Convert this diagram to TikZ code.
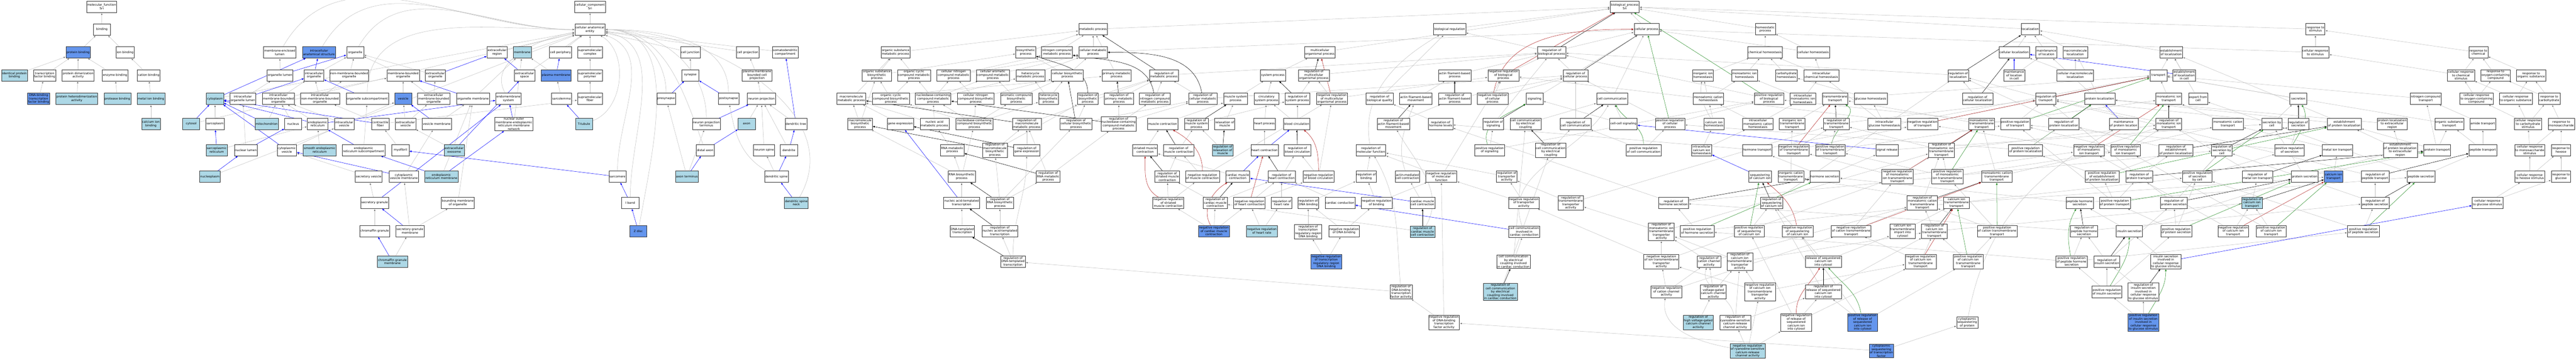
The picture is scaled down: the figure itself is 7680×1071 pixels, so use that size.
\documentclass[tikz,border=0pt]{standalone}
\usepackage{fontspec}
\newfontfamily\goterm{DejaVu Sans}
\usetikzlibrary{arrows.meta}
\definecolor{edgegray}{RGB}{192,192,192}
\definecolor{hitblue}{RGB}{173,216,230}
\definecolor{seedblue}{RGB}{100,149,237}
\definecolor{negred}{RGB}{178,34,34}
\definecolor{posgreen}{RGB}{34,139,34}
\pgfdeclarelayer{bg}
\pgfsetlayers{bg,main}

\begin{document}
\begin{tikzpicture}[x=1pt,y=-1pt,
term/.style={draw=black!80,line width=0.8pt,fill=white,align=center,inner xsep=2pt,inner ysep=2pt,minimum width=51pt,minimum height=34pt,font=\goterm\fontsize{9}{10}\selectfont},
hit/.style={term,fill=hitblue},
seed/.style={term,fill=seedblue},
isa/.style={draw=edgegray,line width=0.8pt,-{Triangle[length=6pt,width=5pt]},shorten >=1pt},
partof/.style={draw=blue},
regs/.style={draw=black},
negreg/.style={draw=negred},
posreg/.style={draw=posgreen}]
\useasboundingbox (0,0) rectangle (7680,1071);

% molecular function
\node[term] (mf) at (303,20) {molecular\_function\\Sri};
\node[term] (bind) at (304,88) {binding};
\node[seed] (protbind) at (233,156) {protein binding};
\node[term] (ionbind) at (373,156) {ion binding};
\node[hit] (identprot) at (43,224) {identical protein\\binding};
\node[term] (tfbind) at (133,224) {transcription\\factor binding};
\node[term] (dimer) at (233,224) {protein dimerization\\activity};
\node[term] (enzbind) at (343,224) {enzyme binding};
\node[term] (catbind) at (443,224) {cation binding};
\node[seed] (dnatfbind) at (115,294) {DNA-binding\\transcription\\factor binding};
\node[hit] (heterodimer) at (229,294) {protein heterodimerization\\activity};
\node[hit] (proteasebind) at (350,294) {protease binding};
\node[hit] (metalbind) at (450,294) {metal ion binding};
\node[hit] (cabind) at (450,369) {calcium ion\\binding};

% cellular component
\node[term] (cc) at (1759,20) {cellular\_component\\Sri};
\node[term] (cae) at (1759,88) {cellular anatomical\\entity};
\node[term] (melumen) at (834,156) {membrane-enclosed\\lumen};
\node[seed] (ias) at (951,156) {intracellular\\anatomical structure};
\node[term] (organelle) at (1059,156) {organelle};
\node[term] (exreg) at (1482,156) {extracellular\\region};
\node[hit] (membrane) at (1557,156) {membrane};
\node[term] (cellper) at (1671,156) {cell periphery};
\node[term] (smcomplex) at (1759,156) {supramolecular\\complex};
\node[term] (celljunc) at (2058,156) {cell junction};
\node[term] (cellproj) at (2229,156) {cell projection};
\node[term] (somato) at (2341,156) {somatodendritic\\compartment};
\node[term] (orglumen) at (835,224) {organelle lumen};
\node[term] (intorg) at (936,224) {intracellular\\organelle};
\node[term] (nmbo) at (1041,224) {non-membrane-bounded\\organelle};
\node[term] (mbo) at (1202,224) {membrane-bounded\\organelle};
\node[term] (exorg) at (1298,224) {extracellular\\organelle};
\node[term] (exspace) at (1564,224) {extracellular\\space};
\node[seed] (pm) at (1658,224) {plasma membrane};
\node[term] (smpolymer) at (1759,224) {supramolecular\\polymer};
\node[term] (synapse) at (2058,224) {synapse};
\node[term] (pmbcp) at (2257,224) {plasma membrane\\bounded cell\\projection};
\node[hit] (cytoplasm) at (641,294) {cytoplasm};
\node[term] (intorglumen) at (724,294) {intracellular\\organelle lumen};
\node[term] (imbo) at (830,294) {intracellular\\membrane-bounded\\organelle};
\node[term] (inmbo) at (954,294) {intracellular\\non-membrane-bounded\\organelle};
\node[term] (orgsub) at (1095,294) {organelle subcompartment};
\node[seed] (vesicle) at (1202,294) {vesicle};
\node[term] (exmbo) at (1293,294) {extracellular\\membrane-bounded\\organelle};
\node[term] (orgmem) at (1410,294) {organelle membrane};
\node[term] (endomem) at (1516,294) {endomembrane\\system};
\node[term] (sarcolemma) at (1674,294) {sarcolemma};
\node[term] (smfiber) at (1759,294) {supramolecular\\fiber};
\node[term] (presyn) at (1986,294) {presynapse};
\node[term] (postsyn) at (2172,294) {postsynapse};
\node[term] (neuproj) at (2270,294) {neuron projection};
\node[hit] (cytosol) at (570,369) {cytosol};
\node[term] (sarcoplasm) at (641,369) {sarcoplasm};
\node[hit] (mito) at (795,369) {mitochondrion};
\node[term] (nucleus) at (874,369) {nucleus};
\node[term] (er) at (947,369) {endoplasmic\\reticulum};
\node[term] (intves) at (1026,369) {intracellular\\vesicle};
\node[term] (contrfiber) at (1134,369) {contractile\\fiber};
\node[term] (exves) at (1209,369) {extracellular\\vesicle};
\node[term] (vesmem) at (1302,369) {vesicle membrane};
\node[term] (nomer) at (1532,369) {nuclear outer\\membrane-endoplasmic\\reticulum membrane\\network};
\node[hit] (ttubule) at (1741,369) {T-tubule};
\node[term] (npterm) at (2106,369) {neuron projection\\terminus};
\node[hit] (axon) at (2226,369) {axon};
\node[term] (dendtree) at (2373,369) {dendritic tree};
\node[hit] (sarcoret) at (646,447) {sarcoplasmic\\reticulum};
\node[term] (nuclumen) at (733,447) {nuclear lumen};
\node[term] (cytves) at (855,447) {cytoplasmic\\vesicle};
\node[hit] (ser) at (953,447) {smooth endoplasmic\\reticulum};
\node[term] (ersub) at (1084,447) {endoplasmic\\reticulum subcompartment};
\node[term] (myofibril) at (1194,447) {myofibril};
\node[hit] (exosome) at (1354,447) {extracellular\\exosome};
\node[term] (distaxon) at (2102,447) {distal axon};
\node[term] (neuspine) at (2278,447) {neuron spine};
\node[term] (dendrite) at (2352,447) {dendrite};
\node[hit] (nucleoplasm) at (626,526) {nucleoplasm};
\node[term] (secves) at (1099,526) {secretory vesicle};
\node[term] (cvmem) at (1204,526) {cytoplasmic\\vesicle membrane};
\node[hit] (ermem) at (1316,526) {endoplasmic\\reticulum membrane};
\node[term] (sarcomere) at (1841,526) {sarcomere};
\node[hit] (axonterm) at (2048,526) {axon terminus};
\node[term] (dendspine) at (2315,526) {dendritic spine};
\node[term] (secgran) at (1117,604) {secretory granule};
\node[term] (bmo) at (1365,604) {bounding membrane\\of organelle};
\node[term] (iband) at (1879,604) {I band};
\node[hit] (spineneck) at (2374,604) {dendritic spine\\neck};
\node[term] (chromgran) at (1117,688) {chromaffin granule};
\node[term] (sgmem) at (1222,688) {secretory granule\\membrane};
\node[seed] (zdisc) at (1903,688) {Z disc};
\node[hit] (cgmem) at (1170,779) {chromaffin granule\\membrane};

% biological process
\node[term] (bp) at (4844,20) {biological\_process\\Sri};
\node[term] (metab) at (3259,87) {metabolic process};
\node[term] (bioreg) at (4322,87) {biological regulation};
\node[term] (cellproc) at (4909,87) {cellular process};
\node[term] (homeo) at (5263,87) {homeostatic\\process};
\node[term] (loc) at (6053,87) {localization};
\node[term] (respstim) at (6903,87) {response to\\stimulus};
\node[term] (orgsubmet) at (2670,156) {organic substance\\metabolic process};
\node[term] (biosyn) at (3058,156) {biosynthetic\\process};
\node[term] (ncmp) at (3151,156) {nitrogen compound\\metabolic process};
\node[term] (cellmet) at (3259,156) {cellular metabolic\\process};
\node[term] (multiorg) at (3935,156) {multicellular\\organismal process};
\node[term] (regbio) at (4626,156) {regulation of\\biological process};
\node[term] (chemhomeo) at (5262,156) {chemical homeostasis};
\node[term] (cellhomeo) at (5406,156) {cellular homeostasis};
\node[term] (cellloc) at (6005,156) {cellular localization};
\node[term] (maintloc) at (6101,156) {maintenance\\of location};
\node[term] (macroloc) at (6187,156) {macromolecule\\localization};
\node[term] (estloc) at (6473,156) {establishment\\of localization};
\node[term] (cellresp) at (6903,156) {cellular response\\to stimulus};
\node[term] (respchem) at (7389,156) {response to\\chemical};
\node[term] (orgsubbio) at (2614,224) {organic substance\\biosynthetic\\process};
\node[term] (occmp) at (2725,224) {organic cyclic\\compound metabolic\\process};
\node[term] (cncmp) at (2843,224) {cellular nitrogen\\compound metabolic\\process};
\node[term] (cacmp) at (2960,224) {cellular aromatic\\compound metabolic\\process};
\node[term] (hetmet) at (3072,224) {heterocycle\\metabolic process};
\node[term] (cellbio) at (3182,224) {cellular biosynthetic\\process};
\node[term] (primmet) at (3329,224) {primary metabolic\\process};
\node[term] (regmet) at (3470,224) {regulation of\\metabolic process};
\node[term] (sysproc) at (3795,224) {system process};
\node[term] (regmulti) at (3917,224) {regulation of\\multicellular\\organismal process};
\node[term] (afbp) at (4337,224) {actin filament-based\\process};
\node[term] (negbio) at (4482,224) {negative regulation\\of biological\\process};
\node[term] (regcell) at (4697,224) {regulation of\\cellular process};
\node[term] (inorghomeo) at (5077,224) {inorganic ion\\homeostasis};
\node[term] (ionhomeo) at (5201,224) {monoatomic ion\\homeostasis};
\node[term] (carbhomeo) at (5326,224) {carbohydrate\\homeostasis};
\node[term] (icchemhomeo) at (5430,224) {intracellular\\chemical homeostasis};
\node[term] (regloc) at (5838,224) {regulation of\\localization};
\node[term] (maintlocell) at (6005,224) {maintenance\\of location\\in cell};
\node[term] (cmacroloc) at (6187,224) {cellular macromolecule\\localization};
\node[term] (transport) at (6435,224) {transport};
\node[term] (estloccell) at (6512,224) {establishment\\of localization\\in cell};
\node[term] (crchem) at (7337,224) {cellular response\\to chemical\\stimulus};
\node[term] (respoxy) at (7440,224) {response to\\oxygen-containing\\compound};
\node[term] (resporg) at (7546,224) {response to\\organic substance};
\node[term] (macromet) at (2538,294) {macromolecule\\metabolic process};
\node[term] (occbp) at (2656,294) {organic cyclic\\compound biosynthetic\\process};
\node[term] (nccmp) at (2782,294) {nucleobase-containing\\compound metabolic\\process};
\node[term] (cncbp) at (2909,294) {cellular nitrogen\\compound biosynthetic\\process};
\node[term] (acbp) at (3030,294) {aromatic compound\\biosynthetic\\process};
\node[term] (hetbio) at (3126,294) {heterocycle\\biosynthetic\\process};
\node[term] (regbiosyn) at (3243,294) {regulation of\\biosynthetic\\process};
\node[term] (regprim) at (3336,294) {regulation of\\primary metabolic\\process};
\node[term] (regncmp) at (3443,294) {regulation of\\nitrogen compound\\metabolic process};
\node[term] (regcellmet) at (3586,294) {regulation of\\cellular metabolic\\process};
\node[term] (musclesys) at (3684,294) {muscle system\\process};
\node[term] (circsys) at (3776,294) {circulatory\\system process};
\node[term] (regsys) at (3868,294) {regulation of\\system process};
\node[term] (negmulti) at (3971,294) {negative regulation\\of multicellular\\organismal process};
\node[term] (regqual) at (4113,294) {regulation of\\biological quality};
\node[term] (afbm) at (4221,294) {actin filament-based\\movement};
\node[term] (regafbp) at (4337,294) {regulation of\\actin filament-based\\process};
\node[term] (negcell) at (4450,294) {negative regulation\\of cellular\\process};
\node[term] (signaling) at (4575,294) {signaling};
\node[term] (cellcomm) at (4806,294) {cell communication};
\node[term] (cationhomeo) at (5093,294) {monoatomic cation\\homeostasis};
\node[term] (posbio) at (5274,294) {positive regulation\\of biological\\process};
\node[term] (icionhomeo) at (5375,294) {intracellular\\monoatomic ion\\homeostasis};
\node[term] (tmtransport) at (5471,294) {transmembrane\\transport};
\node[term] (glchomeo) at (5577,294) {glucose homeostasis};
\node[term] (regcellloc) at (5896,294) {regulation of\\cellular localization};
\node[term] (regtransport) at (6099,294) {regulation of\\transport};
\node[term] (protloc) at (6260,294) {protein localization};
\node[term] (iontransport) at (6466,294) {monoatomic ion\\transport};
\node[term] (export) at (6553,294) {export from\\cell};
\node[term] (secretion) at (6852,294) {secretion};
\node[term] (nctransport) at (7232,294) {nitrogen compound\\transport};
\node[term] (croxy) at (7383,294) {cellular response\\to oxygen-containing\\compound};
\node[term] (crorg) at (7500,294) {cellular response\\to organic substance};
\node[term] (respcarb) at (7600,294) {response to\\carbohydrate};
\node[term] (macrobio) at (2564,369) {macromolecule\\biosynthetic\\process};
\node[term] (geneexp) at (2684,369) {gene expression};
\node[term] (nameta) at (2786,369) {nucleic acid\\metabolic process};
\node[term] (nccbp) at (2905,369) {nucleobase-containing\\compound biosynthetic\\process};
\node[term] (regmacromet) at (3061,369) {regulation of\\macromolecule\\metabolic process};
\node[term] (regcellbio) at (3208,369) {regulation of\\cellular biosynthetic\\process};
\node[term] (regnccmp) at (3335,369) {regulation of\\nucleobase-containing\\compound metabolic\\process};
\node[term] (musclecon) at (3466,369) {muscle contraction};
\node[term] (regmusclesys) at (3567,369) {regulation of\\muscle system\\process};
\node[term] (relax) at (3651,369) {relaxation of\\muscle};
\node[term] (heartproc) at (3770,369) {heart process};
\node[term] (bloodcirc) at (3866,369) {blood circulation};
\node[term] (regafbm) at (4154,369) {regulation of\\actin filament-based\\movement};
\node[term] (reghormlev) at (4295,369) {regulation of\\hormone levels};
\node[term] (regsig) at (4452,369) {regulation of\\signaling};
\node[term] (ccelec) at (4548,369) {cell communication\\by electrical\\coupling};
\node[term] (regcellcomm) at (4697,369) {regulation of\\cell communication};
\node[term] (ccsignal) at (4840,369) {cell-cell signaling};
\node[term] (poscell) at (4979,369) {positive regulation\\of cellular\\process};
\node[term] (cahomeo) at (5110,369) {calcium ion\\homeostasis};
\node[term] (iccationhomeo) at (5241,369) {intracellular\\monoatomic cation\\homeostasis};
\node[term] (inorgiontm) at (5343,369) {inorganic ion\\transmembrane\\transport};
\node[term] (regtm) at (5475,369) {regulation of\\transmembrane\\transport};
\node[term] (icglchomeo) at (5618,369) {intracellular\\glucose homeostasis};
\node[term] (negtransport) at (5732,369) {negative regulation\\of transport};
\node[term] (iontm) at (5908,369) {monoatomic ion\\transmembrane\\transport};
\node[term] (postransport) at (6008,369) {positive regulation\\of transport};
\node[term] (regprotloc) at (6153,369) {regulation of\\protein localization};
\node[term] (maintprotloc) at (6331,369) {maintenance\\of protein location};
\node[term] (regiontransport) at (6466,369) {regulation of\\monoatomic ion\\transport};
\node[term] (cationtransport) at (6642,369) {monoatomic cation\\transport};
\node[term] (secbycell) at (6773,369) {secretion by\\cell};
\node[term] (regsecretion) at (6852,369) {regulation of\\secretion};
\node[term] (estprotloc) at (6989,369) {establishment\\of protein localization};
\node[term] (protlocex) at (7132,369) {protein localization\\to extracellular\\region};
\node[term] (orgsubtransport) at (7302,369) {organic substance\\transport};
\node[term] (amidetransport) at (7402,369) {amide transport};
\node[term] (crcarb) at (7537,369) {cellular response\\to carbohydrate\\stimulus};
\node[term] (respmono) at (7636,369) {response to\\monosaccharide};
\node[term] (rnamet) at (2839,447) {RNA metabolic\\process};
\node[term] (regmacrobio) at (2966,447) {regulation of\\macromolecule\\biosynthetic\\process};
\node[term] (reggeneexp) at (3061,447) {regulation of\\gene expression};
\node[term] (striated) at (3414,447) {striated muscle\\contraction};
\node[term] (regmusclecon) at (3514,447) {regulation of\\muscle contraction};
\node[hit] (regrelax) at (3645,447) {regulation of\\relaxation of\\muscle};
\node[term] (heartcon) at (3770,447) {heart contraction};
\node[term] (regblood) at (3868,447) {regulation of\\blood circulation};
\node[term] (regmf) at (4087,447) {regulation of\\molecular function};
\node[term] (possig) at (4441,447) {positive regulation\\of signaling};
\node[term] (regccelec) at (4623,447) {regulation of\\cell communication\\by electrical\\coupling};
\node[term] (poscellcomm) at (4900,447) {positive regulation\\of cell communication};
\node[term] (iccahomeo) at (5073,447) {intracellular\\calcium ion\\homeostasis};
\node[term] (hormtransport) at (5239,447) {hormone transport};
\node[term] (negtm) at (5348,447) {negative regulation\\of transmembrane\\transport};
\node[term] (postm) at (5457,447) {positive regulation\\of transmembrane\\transport};
\node[term] (sigrelease) at (5626,447) {signal release};
\node[term] (regiontm) at (5788,447) {regulation of\\monoatomic ion\\transmembrane\\transport};
\node[term] (posprotloc) at (6039,447) {positive regulation\\of protein localization};
\node[term] (negiontransport) at (6228,447) {negative regulation\\of monoatomic\\ion transport};
\node[term] (posiontransport) at (6337,447) {positive regulation\\of monoatomic\\ion transport};
\node[term] (regestprotloc) at (6487,447) {regulation of\\establishment\\of protein localization};
\node[term] (regsecbycell) at (6624,447) {regulation of\\secretion by\\cell};
\node[term] (possecretion) at (6826,447) {positive regulation\\of secretion};
\node[term] (metaltransport) at (6969,447) {metal ion transport};
\node[term] (estprotlocex) at (7156,447) {establishment\\of protein localization\\to extracellular\\region};
\node[term] (prottransport) at (7266,447) {protein transport};
\node[term] (peptransport) at (7402,447) {peptide transport};
\node[term] (crmono) at (7542,447) {cellular response\\to monosaccharide\\stimulus};
\node[term] (resphexose) at (7635,447) {response to\\hexose};
\node[term] (rnabio) at (2867,526) {RNA biosynthetic\\process};
\node[term] (regrnamet) at (3125,526) {regulation of\\RNA metabolic\\process};
\node[term] (regstriated) at (3480,526) {regulation of\\striated muscle\\contraction};
\node[term] (negmusclecon) at (3585,526) {negative regulation\\of muscle contraction};
\node[term] (cardiaccon) at (3690,526) {cardiac muscle\\contraction};
\node[term] (regheartcon) at (3821,526) {regulation of\\heart contraction};
\node[term] (negblood) at (3931,526) {negative regulation\\of blood circulation};
\node[term] (regbinding) at (4073,526) {regulation of\\binding};
\node[term] (actincon) at (4196,526) {actin-mediated\\cell contraction};
\node[term] (negmf) at (4297,526) {negative regulation\\of molecular\\function};
\node[term] (regtransporter) at (4492,526) {regulation of\\transporter\\activity};
\node[term] (seqca) at (5247,526) {sequestering\\of calcium ion};
\node[term] (inorgcationtm) at (5339,526) {inorganic cation\\transmembrane\\transport};
\node[term] (hormsec) at (5440,526) {hormone secretion};
\node[term] (negiontm) at (5657,526) {negative regulation\\of monoatomic\\ion transmembrane\\transport};
\node[term] (posiontm) at (5806,526) {positive regulation\\of monoatomic\\ion transmembrane\\transport};
\node[term] (cationtm) at (5953,526) {monoatomic cation\\transmembrane\\transport};
\node[term] (posestprotloc) at (6267,526) {positive regulation\\of establishment\\of protein localization};
\node[term] (regprottransport) at (6378,526) {regulation of\\protein transport};
\node[term] (possecbycell) at (6551,526) {positive regulation\\of secretion\\by cell};
\node[term] (regmetaltransport) at (6730,526) {regulation of\\metal ion transport};
\node[term] (protsec) at (6871,526) {protein secretion};
\node[seed] (catransport) at (6957,526) {calcium ion\\transport};
\node[term] (regpeptransport) at (7081,526) {regulation of\\peptide transport};
\node[term] (peptidesec) at (7218,526) {peptide secretion};
\node[term] (crhexose) at (7542,526) {cellular response\\to hexose stimulus};
\node[term] (respglucose) at (7635,526) {response to\\glucose};
\node[term] (ntt) at (2867,604) {nucleic acid-templated\\transcription};
\node[term] (regrnabio) at (2981,604) {regulation of\\RNA biosynthetic\\process};
\node[term] (negstriated) at (3483,604) {negative regulation\\of striated\\muscle contraction};
\node[term] (regcardiaccon) at (3623,604) {regulation of\\cardiac muscle\\contraction};
\node[term] (negheartcon) at (3725,604) {negative regulation\\of heart contraction};
\node[term] (regheartrate) at (3821,604) {regulation of\\heart rate};
\node[term] (regdnabind) at (3900,604) {regulation of\\DNA binding};
\node[term] (cardcond) at (3995,604) {cardiac conduction};
\node[term] (negbinding) at (4104,604) {negative regulation\\of binding};
\node[term] (cmcellcon) at (4241,604) {cardiac muscle\\cell contraction};
\node[term] (negtransporter) at (4543,604) {negative regulation\\of transporter\\activity};
\node[term] (regtmtransporter) at (4683,604) {regulation of\\transmembrane\\transporter\\activity};
\node[term] (reghormsec) at (4989,604) {regulation of\\hormone secretion};
\node[term] (regseqca) at (5282,604) {regulation of\\sequestering\\of calcium ion};
\node[term] (regcationtm) at (5731,604) {regulation of\\monoatomic cation\\transmembrane\\transport};
\node[term] (catm) at (5833,604) {calcium ion\\transmembrane\\transport};
\node[term] (pephormsec) at (6200,604) {peptide hormone\\secretion};
\node[term] (posprottransport) at (6305,604) {positive regulation\\of protein transport};
\node[term] (regprotsec) at (6481,604) {regulation of\\protein secretion};
\node[hit] (regcatransport) at (6714,604) {regulation of\\calcium ion\\transport};
\node[term] (regpepsec) at (7081,604) {regulation of\\peptide secretion};
\node[term] (crglucose) at (7416,604) {cellular response\\to glucose stimulus};
\node[term] (dnatt) at (2869,688) {DNA-templated\\transcription};
\node[term] (regntt) at (2981,688) {regulation of\\nucleic acid-templated\\transcription};
\node[seed] (negcardiaccon) at (3619,688) {negative regulation\\of cardiac muscle\\contraction};
\node[hit] (negheartrate) at (3762,688) {negative regulation\\of heart rate};
\node[term] (regtrrbind) at (3900,690) {regulation of\\transcription\\regulatory region\\DNA binding};
\node[term] (negdnabind) at (4007,688) {negative regulation\\of DNA binding};
\node[hit] (regcmcellcon) at (4241,690) {regulation of\\cardiac muscle\\cell contraction};
\node[term] (cccardcond) at (4544,690) {cell communication\\involved in\\cardiac conduction};
\node[term] (regiontmtransporter) at (4953,690) {regulation of\\monoatomic ion\\transmembrane\\transporter\\activity};
\node[term] (poshormsec) at (5060,688) {positive regulation\\of hormone secretion};
\node[term] (posseqca) at (5215,688) {positive regulation\\of sequestering\\of calcium ion};
\node[term] (negseqca) at (5359,688) {negative regulation\\of sequestering\\of calcium ion};
\node[term] (negcationtm) at (5519,688) {negative regulation\\of cation transmembrane\\transport};
\node[term] (caimport) at (5672,688) {calcium ion\\transmembrane\\import into\\cytosol};
\node[term] (regcatm) at (5767,688) {regulation of\\calcium ion\\transmembrane\\transport};
\node[term] (poscationtm) at (5954,688) {positive regulation\\of cation transmembrane\\transport};
\node[term] (regpephormsec) at (6213,688) {regulation of\\peptide hormone\\secretion};
\node[term] (insulinsec) at (6348,688) {insulin secretion};
\node[term] (posprotsec) at (6488,688) {positive regulation\\of protein secretion};
\node[term] (negcatransport) at (6658,688) {negative regulation\\of calcium ion\\transport};
\node[term] (poscatransport) at (6771,688) {positive regulation\\of calcium ion\\transport};
\node[term] (pospepsec) at (7046,688) {positive regulation\\of peptide secretion};
\node[term] (regdnatt) at (3020,779) {regulation of\\DNA-templated\\transcription};
\node[seed] (negtrrbind) at (3954,779) {negative regulation\\of transcription\\regulatory region\\DNA binding};
\node[term] (ccelecheart) at (4512,779) {cell communication\\by electrical\\coupling involved\\in cardiac conduction};
\node[term] (negiontmtransporter) at (4953,779) {negative regulation\\of ion transmembrane\\transporter\\activity};
\node[term] (regcationchannel) at (5095,779) {regulation of\\cation channel\\activity};
\node[term] (regcatmtransporter) at (5187,779) {regulation of\\calcium ion\\transmembrane\\transporter\\activity};
\node[term] (releaseca) at (5436,779) {release of sequestered\\calcium ion\\into cytosol};
\node[term] (negcatm) at (5726,779) {negative regulation\\of calcium ion\\transmembrane\\transport};
\node[term] (poscatm) at (5868,779) {positive regulation\\of calcium ion\\transmembrane\\transport};
\node[term] (pospephormsec) at (6176,779) {positive regulation\\of peptide hormone\\secretion};
\node[term] (reginsulinsec) at (6281,779) {regulation of\\insulin secretion};
\node[term] (insglc) at (6457,779) {insulin secretion\\involved in\\cellular response\\to glucose stimulus};
\node[term] (regdnatfact) at (4177,869) {regulation of\\DNA-binding\\transcription\\factor activity};
\node[hit] (regccelecheart) at (4473,869) {regulation of\\cell communication\\by electrical\\coupling involved\\in cardiac conduction};
\node[term] (negcationchannel) at (4968,869) {negative regulation\\of cation channel\\activity};
\node[term] (regvgcc) at (5108,869) {regulation of\\voltage-gated\\calcium channel\\activity};
\node[term] (negcatmtransporter) at (5247,869) {negative regulation\\of calcium ion\\transmembrane\\transporter\\activity};
\node[term] (regreleaseca) at (5436,869) {regulation of\\release of sequestered\\calcium ion\\into cytosol};
\node[term] (posinsulinsec) at (6281,869) {positive regulation\\of insulin secretion};
\node[term] (reginsglc) at (6390,869) {regulation of\\insulin secretion\\involved in\\cellular response\\to glucose stimulus};
\node[term] (negdnatfact) at (4305,960) {negative regulation\\of DNA-binding\\transcription\\factor activity};
\node[hit] (reghvgcc) at (5063,960) {regulation of\\high voltage-gated\\calcium channel\\activity};
\node[term] (regryr) at (5173,960) {regulation of\\ryanodine-sensitive\\calcium-release\\channel activity};
\node[term] (negreleaseca) at (5355,960) {negative regulation\\of release of\\sequestered\\calcium ion\\into cytosol};
\node[seed] (posreleaseca) at (5553,960) {positive regulation\\of release of\\sequestered\\calcium ion\\into cytosol};
\node[term] (cytseqprot) at (5865,960) {cytoplasmic\\sequestering\\of protein};
\node[seed] (posinsglc) at (6390,960) {positive regulation\\of insulin secretion\\involved in\\cellular response\\to glucose stimulus};
\node[hit] (negryr) at (5210,1045) {negative regulation\\of ryanodine-sensitive\\calcium-release\\channel activity};
\node[seed] (cytseqtf) at (5609,1045) {cytoplasmic\\sequestering\\of transcription\\factor};

\begin{pgfonlayer}{bg}
\fill[white] (0,0) rectangle (7680,1071);
\path[isa]
(bind) edge (mf)
(protbind) edge (bind)
(ionbind) edge (bind)
(identprot) edge (protbind)
(tfbind) edge (protbind)
(dimer) edge (protbind)
(enzbind) edge (protbind)
(catbind) edge (ionbind)
(dnatfbind) edge (tfbind)
(heterodimer) edge (dimer)
(proteasebind) edge (enzbind)
(metalbind) edge (catbind)
(cabind) edge (metalbind)
(cae) edge (cc)
(melumen) edge[out=60,in=180] (cae)
(ias) edge[out=60,in=180] (cae)
(organelle) edge[out=60,in=180] (cae)
(exreg) edge (cae)
(membrane) edge (cae)
(cellper) edge (cae)
(smcomplex) edge (cae)
(celljunc) edge (cae)
(cellproj) edge (cae)
(somato) edge (cae)
(cytosol) edge (cae)
(cytosol) edge[partof] (cytoplasm)
(cytoplasm) edge (cae)
(cytoplasm) edge[partof] (ias)
(nucleoplasm) edge (cae)
(nucleoplasm) edge[partof] (nuclumen)
(sarcoplasm) edge (cytoplasm)
(sarcoret) edge[partof] (sarcoplasm)
(sarcoret) edge (er)
(orglumen) edge (melumen)
(orglumen) edge[partof] (organelle)
(intorg) edge[partof] (ias)
(intorg) edge (organelle)
(nmbo) edge (organelle)
(mbo) edge (organelle)
(exorg) edge (organelle)
(exorg) edge[partof] (exreg)
(intorglumen) edge (orglumen)
(intorglumen) edge[partof] (intorg)
(imbo) edge (intorg)
(imbo) edge (mbo)
(inmbo) edge (intorg)
(inmbo) edge (nmbo)
(orgsub) edge[partof] (intorg)
(orgsub) edge[out=90,in=180] (cae)
(vesicle) edge (mbo)
(exmbo) edge (mbo)
(exmbo) edge (exorg)
(mito) edge (imbo)
(mito) edge[partof] (cytoplasm)
(nucleus) edge (imbo)
(er) edge (imbo)
(er) edge[partof] (cytoplasm)
(er) edge[partof] (endomem)
(intves) edge (vesicle)
(intves) edge (imbo)
(contrfiber) edge (inmbo)
(contrfiber) edge[partof] (cytoplasm)
(contrfiber) edge (smfiber)
(exves) edge (vesicle)
(exves) edge (exmbo)
(vesmem) edge (orgmem)
(vesmem) edge[partof] (vesicle)
(nuclumen) edge (intorglumen)
(nuclumen) edge[partof] (nucleus)
(cytves) edge (intves)
(cytves) edge[partof] (cytoplasm)
(ser) edge (er)
(ersub) edge[partof] (er)
(ersub) edge (orgsub)
(myofibril) edge (contrfiber)
(exosome) edge (exves)
(exosome) edge[partof] (exspace)
(secves) edge (cytves)
(cvmem) edge[partof] (cytves)
(cvmem) edge (vesmem)
(ermem) edge[partof] (ersub)
(ermem) edge[partof] (nomer)
(ermem) edge (orgmem)
(secgran) edge (secves)
(secgran) edge[partof] (endomem)
(chromgran) edge (secgran)
(sgmem) edge[partof] (secgran)
(sgmem) edge (cvmem)
(sgmem) edge (bmo)
(cgmem) edge[partof] (chromgran)
(cgmem) edge (sgmem)
(exspace) edge[partof] (exreg)
(exspace) edge (cae)
(pm) edge[partof] (cellper)
(pm) edge (membrane)
(smpolymer) edge (smcomplex)
(orgmem) edge (membrane)
(orgmem) edge[partof] (mbo)
(endomem) edge[out=120,in=190] (cae)
(sarcolemma) edge (pm)
(smfiber) edge (smpolymer)
(nomer) edge[partof] (endomem)
(nomer) edge (membrane)
(ttubule) edge[out=20,in=-30] (cae)
(ttubule) edge[partof] (sarcolemma)
(sarcomere) edge[partof] (myofibril)
(sarcomere) edge[out=90,in=-20] (cae)
(bmo) edge (orgmem)
(iband) edge[partof] (sarcomere)
(iband) edge[out=90,in=-10] (cae)
(zdisc) edge[partof] (iband)
(zdisc) edge[out=80,in=0] (cae)
(synapse) edge (celljunc)
(pmbcp) edge (cellproj)
(presyn) edge[partof] (synapse)
(presyn) edge[out=90,in=0] (cae)
(postsyn) edge[partof] (synapse)
(postsyn) edge[out=90,in=0] (cae)
(neuproj) edge (pmbcp)
(npterm) edge[partof] (neuproj)
(npterm) edge[out=90,in=0] (cae)
(axon) edge (neuproj)
(dendtree) edge[partof] (somato)
(dendtree) edge (neuproj)
(distaxon) edge[partof] (axon)
(distaxon) edge[out=110,in=0] (cae)
(neuspine) edge (neuproj)
(dendrite) edge[partof] (dendtree)
(dendrite) edge (neuproj)
(axonterm) edge[partof] (distaxon)
(axonterm) edge (presyn)
(axonterm) edge (npterm)
(dendspine) edge[partof] (dendrite)
(dendspine) edge (neuspine)
(dendspine) edge[out=150,in=-80] (postsyn)
(spineneck) edge[partof] (dendspine)
(spineneck) edge[out=60,in=0] (cae)
;
\path[isa]
(metab) edge (bp)
(bioreg) edge (bp)
(cellproc) edge (bp)
(homeo) edge (bp)
(loc) edge (bp)
(respstim) edge (bp)
(multiorg) edge (bp)
(regbio) edge[regs] (bp)
(regbio) edge (bioreg)
(orgsubmet) edge (metab)
(biosyn) edge (metab)
(ncmp) edge (metab)
(cellmet) edge (metab)
(cellmet) edge (cellproc)
(chemhomeo) edge (homeo)
(cellhomeo) edge (homeo)
(cellhomeo) edge (cellproc)
(cellloc) edge (loc)
(maintloc) edge (loc)
(macroloc) edge (loc)
(estloc) edge (loc)
(cellresp) edge (respstim)
(cellresp) edge (cellproc)
(respchem) edge (respstim)
(orgsubbio) edge (orgsubmet)
(orgsubbio) edge (biosyn)
(occmp) edge (orgsubmet)
(cncmp) edge (ncmp)
(cncmp) edge (cellmet)
(cacmp) edge (cellmet)
(hetmet) edge (cellmet)
(cellbio) edge (biosyn)
(cellbio) edge (cellmet)
(primmet) edge (metab)
(regmet) edge[regs] (metab)
(regmet) edge (regbio)
(sysproc) edge (multiorg)
(regmulti) edge[regs] (multiorg)
(regmulti) edge (regbio)
(afbp) edge (cellproc)
(negbio) edge (regbio)
(negbio) edge[negreg] (bp)
(regcell) edge[regs] (cellproc)
(regcell) edge (regbio)
(inorghomeo) edge (chemhomeo)
(ionhomeo) edge (chemhomeo)
(carbhomeo) edge (chemhomeo)
(icchemhomeo) edge (chemhomeo)
(icchemhomeo) edge (cellhomeo)
(regloc) edge[regs] (loc)
(regloc) edge (regbio)
(maintlocell) edge[partof] (cellloc)
(maintlocell) edge (maintloc)
(cmacroloc) edge (macroloc)
(cmacroloc) edge (cellloc)
(transport) edge (estloc)
(estloccell) edge[partof] (cellloc)
(estloccell) edge (estloc)
(crchem) edge (respchem)
(crchem) edge (cellresp)
(respoxy) edge (respchem)
(resporg) edge (respchem)
(macromet) edge (orgsubmet)
(macromet) edge (primmet)
(occbp) edge (orgsubbio)
(occbp) edge (occmp)
(nccmp) edge (occmp)
(nccmp) edge (cncmp)
(nccmp) edge (cacmp)
(nccmp) edge (hetmet)
(cncbp) edge (cncmp)
(cncbp) edge (cellbio)
(acbp) edge (cacmp)
(acbp) edge (cellbio)
(hetbio) edge (hetmet)
(hetbio) edge (cellbio)
(regbiosyn) edge[regs,out=90,in=-20] (biosyn)
(regbiosyn) edge (regmet)
(regprim) edge[regs] (primmet)
(regprim) edge (regmet)
(regncmp) edge[regs,out=100,in=-10] (ncmp)
(regncmp) edge (regmet)
(regcellmet) edge[regs,out=100,in=0] (cellmet)
(regcellmet) edge (regmet)
(regcellmet) edge (regcell)
(musclesys) edge (sysproc)
(circsys) edge (sysproc)
(regsys) edge[regs] (sysproc)
(regsys) edge (regmulti)
(negmulti) edge[negreg] (multiorg)
(negmulti) edge (regmulti)
(negmulti) edge (negbio)
(regqual) edge (bioreg)
(afbm) edge (afbp)
(regafbp) edge[regs] (afbp)
(regafbp) edge (regcell)
(negcell) edge (negbio)
(negcell) edge (regcell)
(negcell) edge[negreg,out=80,in=180] (cellproc)
(signaling) edge (cellproc)
(cellcomm) edge (cellproc)
(cationhomeo) edge (ionhomeo)
(cationhomeo) edge (inorghomeo)
(posbio) edge (regbio)
(posbio) edge[posreg] (bp)
(icionhomeo) edge (icchemhomeo)
(icionhomeo) edge (ionhomeo)
(tmtransport) edge (transport)
(glchomeo) edge (carbhomeo)
(regcellloc) edge[regs] (cellloc)
(regcellloc) edge (regloc)
(regtransport) edge[regs] (transport)
(regtransport) edge (regloc)
(protloc) edge (macroloc)
(iontransport) edge (transport)
(export) edge (estloc)
(secretion) edge (transport)
(nctransport) edge (transport)
(croxy) edge (crchem)
(croxy) edge (respoxy)
(crorg) edge (crchem)
(crorg) edge (resporg)
(respcarb) edge (respoxy)
(respcarb) edge (resporg)
(macrobio) edge (macromet)
(macrobio) edge (orgsubbio)
(geneexp) edge (macromet)
(nameta) edge (nccmp)
(nameta) edge (macromet)
(nccbp) edge (nccmp)
(nccbp) edge (cncbp)
(nccbp) edge (acbp)
(nccbp) edge (hetbio)
(nccbp) edge (occbp)
(regmacromet) edge[regs] (macromet)
(regmacromet) edge (regmet)
(regcellbio) edge[regs] (cellbio)
(regcellbio) edge (regbiosyn)
(regcellbio) edge (regcellmet)
(regnccmp) edge[regs] (nccmp)
(regnccmp) edge (regprim)
(regnccmp) edge (regncmp)
(regnccmp) edge (regcellmet)
(musclecon) edge (musclesys)
(regmusclesys) edge[regs] (musclesys)
(regmusclesys) edge (regsys)
(relax) edge (musclesys)
(heartproc) edge (circsys)
(bloodcirc) edge (circsys)
(regafbm) edge[regs] (afbm)
(regafbm) edge (regafbp)
(reghormlev) edge (regqual)
(regsig) edge[regs] (signaling)
(regsig) edge (regbio)
(ccelec) edge (cellcomm)
(regcellcomm) edge[regs] (cellcomm)
(regcellcomm) edge (regcell)
(ccsignal) edge (cellcomm)
(ccsignal) edge (signaling)
(poscell) edge[posreg] (cellproc)
(poscell) edge (regcell)
(poscell) edge (posbio)
(cahomeo) edge (cationhomeo)
(cahomeo) edge[out=120,in=-100] (inorghomeo)
(iccationhomeo) edge (icionhomeo)
(iccationhomeo) edge (cationhomeo)
(inorgiontm) edge (tmtransport)
(regtm) edge[regs] (tmtransport)
(regtm) edge (regtransport)
(icglchomeo) edge (glchomeo)
(icglchomeo) edge (icchemhomeo)
(negtransport) edge (regtransport)
(negtransport) edge[negreg] (transport)
(negtransport) edge (negbio)
(iontm) edge (iontransport)
(iontm) edge (tmtransport)
(postransport) edge[posreg] (transport)
(postransport) edge (regtransport)
(postransport) edge (posbio)
(regprotloc) edge[regs] (protloc)
(regprotloc) edge (regloc)
(maintprotloc) edge[partof] (protloc)
(maintprotloc) edge (maintloc)
(regiontransport) edge[regs] (iontransport)
(regiontransport) edge (regtransport)
(cationtransport) edge (iontransport)
(secbycell) edge (secretion)
(secbycell) edge (export)
(regsecretion) edge[regs] (secretion)
(regsecretion) edge (regtransport)
(estprotloc) edge (protloc)
(estprotloc) edge (estloc)
(protlocex) edge (protloc)
(orgsubtransport) edge (transport)
(amidetransport) edge (nctransport)
(crcarb) edge (crorg)
(crcarb) edge (respcarb)
(crcarb) edge (croxy)
(respmono) edge (respcarb)
(rnamet) edge (nameta)
(regmacrobio) edge[regs] (macrobio)
(regmacrobio) edge (regmacromet)
(regmacrobio) edge (regbiosyn)
(reggeneexp) edge[regs] (geneexp)
(reggeneexp) edge (regmacromet)
(striated) edge (musclecon)
(regmusclecon) edge[regs] (musclecon)
(regmusclecon) edge (regmusclesys)
(regrelax) edge[regs] (relax)
(regrelax) edge (regmusclesys)
(heartcon) edge (heartproc)
(heartcon) edge[partof] (bloodcirc)
(regblood) edge[regs] (bloodcirc)
(regblood) edge (regsys)
(regmf) edge[out=100,in=-150] (bioreg)
(possig) edge[posreg,out=110,in=-150] (signaling)
(possig) edge (regsig)
(possig) edge (posbio)
(regccelec) edge[regs] (ccelec)
(regccelec) edge (regcellcomm)
(poscellcomm) edge[posreg,out=90,in=-60] (cellcomm)
(poscellcomm) edge (regcellcomm)
(poscellcomm) edge (poscell)
(iccahomeo) edge (cahomeo)
(iccahomeo) edge (iccationhomeo)
(hormtransport) edge (transport)
(hormtransport) edge (reghormlev)
(negtm) edge[negreg] (tmtransport)
(negtm) edge (regtm)
(negtm) edge (negtransport)
(postm) edge[posreg,out=80,in=-30] (tmtransport)
(postm) edge (regtm)
(postm) edge (postransport)
(sigrelease) edge[partof] (ccsignal)
(sigrelease) edge (secbycell)
(regiontm) edge[regs] (iontm)
(regiontm) edge (regtm)
(regiontm) edge (regiontransport)
(posprotloc) edge[posreg] (protloc)
(posprotloc) edge (regprotloc)
(posprotloc) edge (poscell)
(negiontransport) edge[negreg] (iontransport)
(negiontransport) edge (regiontransport)
(negiontransport) edge (negtransport)
(posiontransport) edge[posreg] (iontransport)
(posiontransport) edge (regiontransport)
(posiontransport) edge (postransport)
(regestprotloc) edge[regs] (estprotloc)
(regestprotloc) edge (regprotloc)
(regsecbycell) edge[regs] (secbycell)
(regsecbycell) edge (regsecretion)
(possecretion) edge[posreg,out=60,in=-60] (secretion)
(possecretion) edge (regsecretion)
(possecretion) edge (postransport)
(metaltransport) edge (cationtransport)
(estprotlocex) edge (protlocex)
(estprotlocex) edge (estprotloc)
(prottransport) edge (nctransport)
(prottransport) edge (orgsubtransport)
(prottransport) edge (estprotloc)
(peptransport) edge (amidetransport)
(peptransport) edge (orgsubtransport)
(crmono) edge (crcarb)
(crmono) edge (respmono)
(resphexose) edge (respmono)
(rnabio) edge (rnamet)
(rnabio) edge (nccbp)
(rnabio) edge (macrobio)
(regrnamet) edge[regs] (rnamet)
(regrnamet) edge (regmacromet)
(regrnamet) edge (regnccmp)
(regstriated) edge[regs] (striated)
(regstriated) edge (regmusclecon)
(negmusclecon) edge[negreg,out=90,in=-30] (musclecon)
(negmusclecon) edge (regmusclecon)
(negmusclecon) edge (negmulti)
(cardiaccon) edge (striated)
(cardiaccon) edge[partof] (heartcon)
(regheartcon) edge[regs] (heartcon)
(regheartcon) edge (regblood)
(negblood) edge[negreg,out=90,in=-40] (bloodcirc)
(negblood) edge (regblood)
(negblood) edge (negmulti)
(regbinding) edge (regmf)
(actincon) edge[out=110,in=-110] (afbm)
(negmf) edge (regmf)
(negmf) edge (negbio)
(regtransporter) edge (regmf)
(seqca) edge[partof] (iccahomeo)
(inorgcationtm) edge (inorgiontm)
(hormsec) edge (hormtransport)
(hormsec) edge (sigrelease)
(negiontm) edge[negreg] (iontm)
(negiontm) edge (regiontm)
(negiontm) edge (negtm)
(negiontm) edge (negiontransport)
(posiontm) edge[posreg] (iontm)
(posiontm) edge (regiontm)
(posiontm) edge (postm)
(posiontm) edge (posiontransport)
(cationtm) edge (iontm)
(cationtm) edge (cationtransport)
(posestprotloc) edge[posreg] (estprotloc)
(posestprotloc) edge (regestprotloc)
(posestprotloc) edge (posprotloc)
(regprottransport) edge[regs] (prottransport)
(regprottransport) edge (regestprotloc)
(regprottransport) edge (regtransport)
(possecbycell) edge[posreg] (secbycell)
(possecbycell) edge (regsecbycell)
(possecbycell) edge (possecretion)
(regmetaltransport) edge[regs] (metaltransport)
(regmetaltransport) edge (regiontransport)
(protsec) edge (secbycell)
(protsec) edge (estprotlocex)
(protsec) edge (prottransport)
(catransport) edge (metaltransport)
(regpeptransport) edge[regs] (peptransport)
(regpeptransport) edge (regtransport)
(peptidesec) edge (peptransport)
(peptidesec) edge (secbycell)
(crhexose) edge (crmono)
(crhexose) edge (resphexose)
(respglucose) edge (resphexose)
(ntt) edge (rnabio)
(ntt) edge[partof] (geneexp)
(regrnabio) edge[regs] (rnabio)
(regrnabio) edge (regrnamet)
(regrnabio) edge (regmacrobio)
(regrnabio) edge (regcellbio)
(negstriated) edge[negreg,out=150,in=-90] (striated)
(negstriated) edge (regstriated)
(negstriated) edge (negmusclecon)
(regcardiaccon) edge[regs] (cardiaccon)
(regcardiaccon) edge (regstriated)
(regcardiaccon) edge (regheartcon)
(negheartcon) edge[negreg] (heartcon)
(negheartcon) edge (regheartcon)
(negheartcon) edge (negblood)
(regheartrate) edge (regheartcon)
(regdnabind) edge (regbinding)
(cardcond) edge (regheartcon)
(negbinding) edge (regbinding)
(negbinding) edge (negmf)
(cmcellcon) edge (actincon)
(cmcellcon) edge[partof] (cardiaccon)
(negtransporter) edge (regtransporter)
(negtransporter) edge (negmf)
(regtmtransporter) edge (regtransporter)
(regtmtransporter) edge (regtm)
(reghormsec) edge[regs] (hormsec)
(reghormsec) edge (regsecbycell)
(reghormsec) edge (reghormlev)
(regseqca) edge[regs] (seqca)
(regseqca) edge (regloc)
(regcationtm) edge[regs] (cationtm)
(regcationtm) edge (regiontm)
(catm) edge (inorgcationtm)
(catm) edge (catransport)
(pephormsec) edge (hormsec)
(pephormsec) edge (peptidesec)
(posprottransport) edge[posreg] (prottransport)
(posprottransport) edge (regprottransport)
(posprottransport) edge (posestprotloc)
(posprottransport) edge (postransport)
(regprotsec) edge[regs] (protsec)
(regprotsec) edge (regprottransport)
(regprotsec) edge (regsecbycell)
(regcatransport) edge[regs] (catransport)
(regcatransport) edge (regmetaltransport)
(regpepsec) edge[regs] (peptidesec)
(regpepsec) edge (regpeptransport)
(regpepsec) edge (regsecbycell)
(crglucose) edge (crhexose)
(crglucose) edge (respglucose)
(dnatt) edge (ntt)
(regntt) edge[regs] (ntt)
(regntt) edge (regrnabio)
(negcardiaccon) edge[negreg,out=120,in=-150] (cardiaccon)
(negcardiaccon) edge (regcardiaccon)
(negcardiaccon) edge (negstriated)
(negcardiaccon) edge (negheartcon)
(negheartrate) edge (negheartcon)
(negheartrate) edge (regheartrate)
(regtrrbind) edge (regdnabind)
(negdnabind) edge (regdnabind)
(negdnabind) edge (negbinding)
(regcmcellcon) edge[regs] (cmcellcon)
(regcmcellcon) edge (regcardiaccon)
(regcmcellcon) edge[out=60,in=-60] (regafbm)
(cccardcond) edge[partof] (cardcond)
(cccardcond) edge[out=110,in=-120] (cellcomm)
(regiontmtransporter) edge (regtmtransporter)
(regiontmtransporter) edge (regiontm)
(poshormsec) edge[posreg] (hormsec)
(poshormsec) edge (reghormsec)
(poshormsec) edge (possecbycell)
(posseqca) edge[posreg] (seqca)
(posseqca) edge (regseqca)
(negseqca) edge[negreg,out=100,in=-40] (seqca)
(negseqca) edge (regseqca)
(negcationtm) edge[negreg] (cationtm)
(negcationtm) edge (regcationtm)
(negcationtm) edge (negiontm)
(caimport) edge (catm)
(regcatm) edge[regs] (catm)
(regcatm) edge (regcationtm)
(regcatm) edge (regcatransport)
(poscationtm) edge[posreg] (cationtm)
(poscationtm) edge (regcationtm)
(poscationtm) edge (posiontm)
(regpephormsec) edge[regs] (pephormsec)
(regpephormsec) edge (reghormsec)
(regpephormsec) edge (regpepsec)
(insulinsec) edge (pephormsec)
(insulinsec) edge (protsec)
(posprotsec) edge[posreg] (protsec)
(posprotsec) edge (regprotsec)
(posprotsec) edge (posprottransport)
(posprotsec) edge (possecbycell)
(negcatransport) edge[negreg] (catransport)
(negcatransport) edge (regcatransport)
(negcatransport) edge (negiontransport)
(poscatransport) edge[posreg] (catransport)
(poscatransport) edge (regcatransport)
(poscatransport) edge (posiontransport)
(pospepsec) edge[posreg] (peptidesec)
(pospepsec) edge (regpepsec)
(pospepsec) edge (possecbycell)
(regdnatt) edge[regs] (dnatt)
(regdnatt) edge (regntt)
(regdnatt) edge[out=90,in=-90] (reggeneexp)
(negtrrbind) edge (regtrrbind)
(negtrrbind) edge (negdnabind)
(ccelecheart) edge (cccardcond)
(ccelecheart) edge (ccelec)
(negiontmtransporter) edge (regiontmtransporter)
(negiontmtransporter) edge (negtransporter)
(negiontmtransporter) edge (negiontm)
(regcationchannel) edge (regiontmtransporter)
(regcationchannel) edge (regcationtm)
(regcatmtransporter) edge (regiontmtransporter)
(regcatmtransporter) edge (regcatm)
(releaseca) edge (caimport)
(releaseca) edge (negseqca)
(negcatm) edge[negreg] (catm)
(negcatm) edge (regcatm)
(negcatm) edge (negcationtm)
(poscatm) edge[posreg] (catm)
(poscatm) edge (regcatm)
(poscatm) edge (poscationtm)
(pospephormsec) edge[posreg,out=100,in=-120] (pephormsec)
(pospephormsec) edge (regpephormsec)
(pospephormsec) edge (poshormsec)
(pospephormsec) edge (pospepsec)
(reginsulinsec) edge[regs] (insulinsec)
(reginsulinsec) edge (regpephormsec)
(reginsulinsec) edge (regprotsec)
(insglc) edge (insulinsec)
(insglc) edge[partof] (crglucose)
(regdnatfact) edge (regdnatt)
(regdnatfact) edge[out=95,in=-60] (regmf)
(regccelecheart) edge[regs] (ccelecheart)
(regccelecheart) edge (regccelec)
(negcationchannel) edge (regcationchannel)
(negcationchannel) edge (negiontmtransporter)
(negcationchannel) edge (negcationtm)
(regvgcc) edge (regcationchannel)
(regvgcc) edge (regcatmtransporter)
(negcatmtransporter) edge (regcatmtransporter)
(negcatmtransporter) edge (negiontmtransporter)
(negcatmtransporter) edge (negcatm)
(regreleaseca) edge[regs] (releaseca)
(regreleaseca) edge (regseqca)
(regreleaseca) edge (regcatm)
(posinsulinsec) edge[posreg,out=60,in=-90] (insulinsec)
(posinsulinsec) edge (reginsulinsec)
(posinsulinsec) edge (pospephormsec)
(posinsulinsec) edge (posprotsec)
(reginsglc) edge[regs] (insglc)
(reginsglc) edge (reginsulinsec)
(negdnatfact) edge (regdnatfact)
(negdnatfact) edge (negmf)
(reghvgcc) edge (regvgcc)
(regryr) edge[out=100,in=-110] (regcationchannel)
(regryr) edge (regcatmtransporter)
(regryr) edge (regreleaseca)
(negreleaseca) edge[negreg,out=90,in=-120] (releaseca)
(negreleaseca) edge (regreleaseca)
(negreleaseca) edge (posseqca)
(negreleaseca) edge (negcatm)
(posreleaseca) edge[posreg,out=100,in=-50] (releaseca)
(posreleaseca) edge (regreleaseca)
(posreleaseca) edge (negseqca)
(posreleaseca) edge (poscatm)
(cytseqprot) edge[out=80,in=-150] (maintprotloc)
(posinsglc) edge[posreg,out=60,in=-90] (insglc)
(posinsglc) edge (reginsglc)
(posinsglc) edge (posinsulinsec)
(negryr) edge (regryr)
(negryr) edge[out=170,in=-100] (negcationchannel)
(negryr) edge (negcatmtransporter)
(negryr) edge (negreleaseca)
(cytseqtf) edge (cytseqprot)
(cytseqtf) edge (negdnatfact)
;
\end{pgfonlayer}
\end{tikzpicture}
\end{document}
